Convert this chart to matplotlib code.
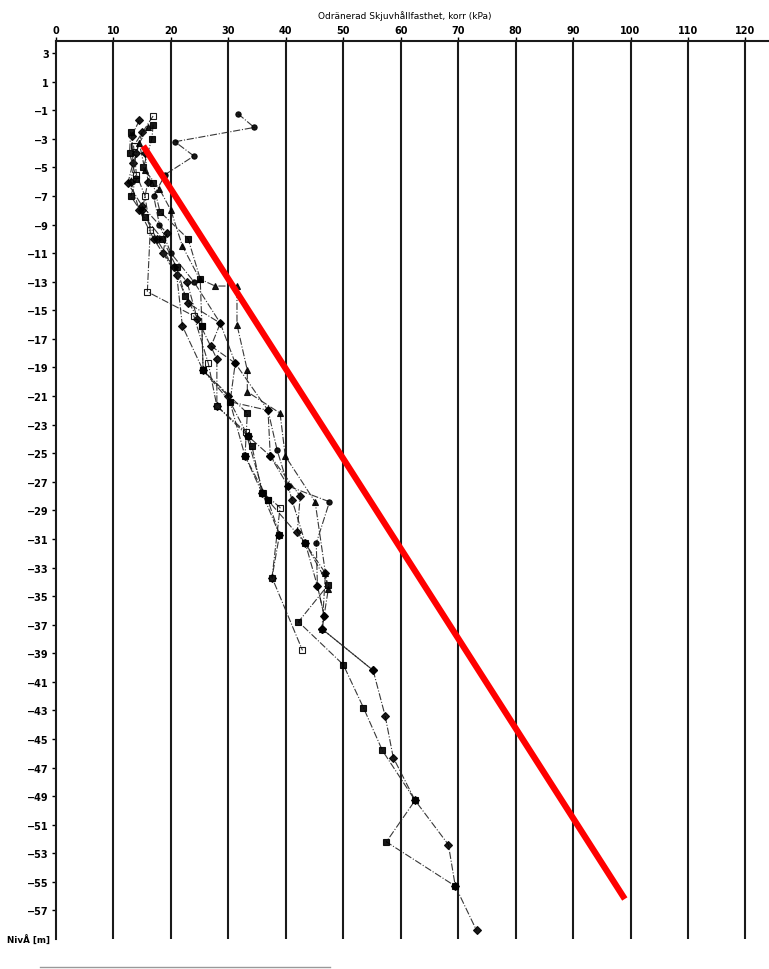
import matplotlib
matplotlib.use("Agg")
import matplotlib.pyplot as plt
from matplotlib.lines import Line2D

# ---- data (shear strength kPa vs level m) ----
s1_x = [14.5, 13.2, 13.4, 12.5, 15.0, 19.3, 18.6, 22.8, 24.6, 28.0, 28.0, 33.4, 37.3, 42.5, 42.0, 46.9, 46.3, 55.2, 57.3, 58.7, 62.5, 68.3, 69.5, 73.2]
s1_y = [-1.7, -2.8, -4.7, -6.1, -7.7, -9.6, -11.0, -13.0, -15.6, -18.4, -21.7, -23.8, -25.2, -28.0, -30.5, -33.4, -37.3, -40.2, -43.4, -46.3, -49.3, -52.4, -55.3, -58.4]
s2_x = [16.9, 16.7, 15.2, 16.9, 18.1, 23.0, 25.1, 25.4, 25.6, 33.3, 32.9, 36.9, 43.4, 47.4, 42.2, 50.0, 53.5, 56.8, 62.5, 57.5, 69.5]
s2_y = [-2.0, -3.0, -5.0, -6.1, -8.1, -10.0, -12.8, -16.1, -19.2, -22.2, -25.2, -28.3, -31.3, -34.2, -36.8, -39.8, -42.8, -45.8, -49.3, -52.2, -55.3]
s3_x = [31.7, 34.5, 20.7, 24.0, 19.0, 17.0, 18.0, 20.0, 24.0, 28.6, 31.2, 30.3, 36.9, 38.5, 40.4, 47.6, 45.3, 45.5, 46.7]
s3_y = [-1.25, -2.2, -3.2, -4.2, -5.5, -7.0, -9.0, -11.0, -13.0, -15.9, -18.7, -21.4, -22.0, -24.8, -27.3, -28.4, -31.3, -34.3, -36.4]
s4_x = [16.9, 13.5, 14.0, 15.5, 16.4, 15.9, 24.0, 26.5, 28.0, 33.0, 36.1, 39.0, 37.6, 42.9]
s4_y = [-1.4, -3.5, -5.5, -7.0, -9.4, -13.7, -15.4, -18.7, -21.7, -23.5, -27.8, -28.8, -33.7, -38.8]
s5_x = [15.0, 14.0, 13.0, 14.5, 17.0, 21.0, 22.0, 25.6, 30.0, 32.9, 35.9, 38.9, 37.6]
s5_y = [-2.5, -4.0, -6.0, -8.0, -10.0, -12.5, -16.1, -19.2, -21.0, -25.2, -27.8, -30.7, -33.7]
s6_x = [16.0, 14.5, 15.5, 18.0, 20.0, 22.0, 25.0, 27.7, 31.5, 31.5, 33.3, 33.3, 39.0, 39.9, 45.1, 46.9, 47.4, 46.3]
s6_y = [-2.2, -3.3, -5.2, -6.5, -8.0, -10.5, -12.8, -13.3, -13.3, -16.0, -19.2, -20.7, -22.2, -25.2, -28.4, -33.4, -34.5, -37.3]
s7_x = [13.0, 12.8, 14.0, 13.0, 15.5, 18.5, 21.0, 22.5, 25.4, 25.6, 30.3, 33.4, 34.1, 35.9, 36.9, 38.9]
s7_y = [-2.5, -4.0, -5.8, -7.0, -8.5, -10.0, -12.0, -14.0, -16.1, -19.2, -21.4, -23.8, -24.5, -27.8, -28.3, -30.7]
s8_x = [15.5, 16.0, 15.0, 17.5, 20.5, 23.0, 28.6, 27.0, 31.2, 36.9, 37.3, 40.4, 41.1, 43.4, 45.5, 46.7, 46.3, 55.2]
s8_y = [-4.0, -6.0, -8.0, -10.0, -12.0, -14.5, -15.9, -17.5, -18.7, -22.0, -25.2, -27.3, -28.3, -31.3, -34.3, -36.4, -37.3, -40.2]

series = [(s1_x, s1_y, "D", "k"), (s2_x, s2_y, "s", "k"), (s3_x, s3_y, "o", "k"),
          (s4_x, s4_y, "s", "none"), (s5_x, s5_y, "D", "k"), (s6_x, s6_y, "^", "k"),
          (s7_x, s7_y, "s", "k"), (s8_x, s8_y, "D", "k")]

red_x = [15.2, 99.0]
red_y = [-3.5, -56.2]

xticks = list(range(0, 130, 10))
yticks = list(range(3, -58, -2))
title = "Odränerad Skjuvhållfasthet, korr (kPa)"
ylab = "NivÅ [m]"

fig = plt.figure(figsize=(7.69, 9.70), dpi=100)
ax = fig.add_axes([56/769, 30/970, 1 - 56/769, (940-42)/970])
ax.set_xlim(0, 124.1)
ax.set_ylim(-59, 3.85)

for x in xticks[1:]:
    ax.axvline(x, color="#1a1a1a", lw=1.5, zorder=1)

for xs, ys, m, fc in series:
    ax.plot(xs, ys, color="#222222", lw=0.8, ls="-.", marker=m, ms=3.8,
            markerfacecolor=fc, markeredgecolor="k", markeredgewidth=0.8, zorder=3, alpha=0.9)

ax.plot(red_x, red_y, color="#ff0000", lw=4.5, solid_capstyle="butt", zorder=4)

ax.xaxis.tick_top()
ax.set_xticks(xticks)
ax.set_xticklabels([str(v) for v in xticks], fontsize=7, fontweight="bold")
ax.set_yticks(yticks + [-59])
ax.set_yticklabels([str(v).replace("-", "\u2212") for v in yticks] + [ylab], fontsize=7, fontweight="bold")
ax.tick_params(axis="x", length=3, width=1, pad=1, top=True, bottom=False)
ax.tick_params(axis="y", length=3, width=1, pad=2)
ytl = ax.yaxis.get_major_ticks()
ytl[-1].tick1line.set_visible(False)
ytl[-1].set_pad(1)
ytl[-1].label1.set_fontsize(6.3)

for s in ["right", "bottom"]:
    ax.spines[s].set_visible(False)
for s in ["left", "top"]:
    ax.spines[s].set_linewidth(1.5)
    ax.spines[s].set_color("#1a1a1a")

fig.text(405/769, 1 - 16/970, title, ha="center", va="center", fontsize=6.5)
fig.add_artist(Line2D([40/769, 330/769], [1 - 968/970, 1 - 968/970], color="#999999", lw=1))

fig.savefig("out.png", dpi=100)
